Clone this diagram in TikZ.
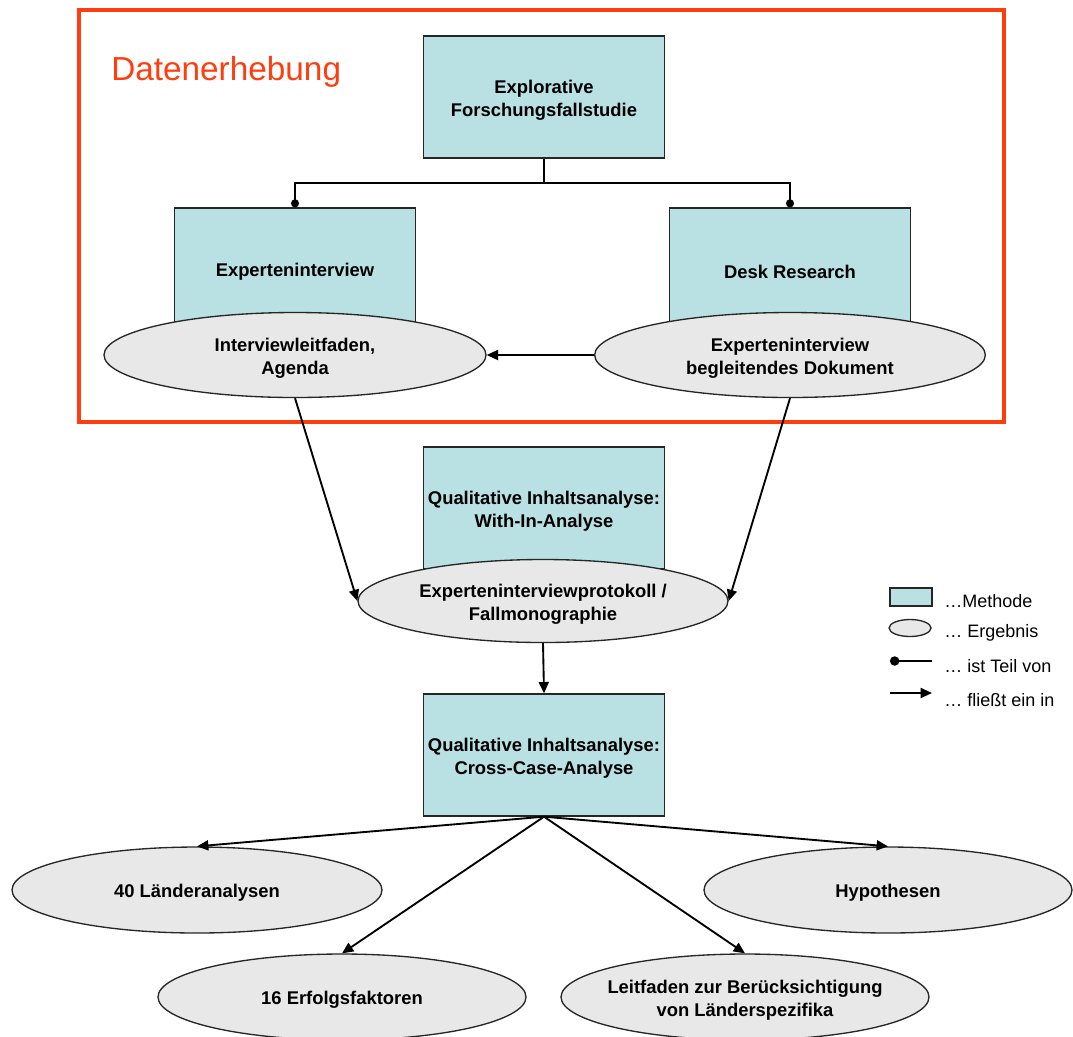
\documentclass[tikz,border=0pt]{standalone}
\usepackage{fontspec}
\setmainfont{Liberation Sans}
\usetikzlibrary{arrows.meta,shapes.geometric}
\definecolor{boxfill}{RGB}{185,224,227}
\definecolor{ellfill}{RGB}{232,232,232}
\definecolor{framered}{RGB}{255,62,16}
\newcommand{\tstr}{\rule{0pt}{14.5pt}}
\begin{document}
\begin{tikzpicture}[x=0.75pt,y=-0.75pt,
  lbl/.style={font=\fontsize{13.8}{17}\selectfont\bfseries},
  method/.style={rectangle,draw=black!85,line width=1pt,fill=boxfill,minimum width=180.75pt,minimum height=91.5pt,inner sep=0pt,align=center,lbl},
  result/.style={ellipse,draw=black!85,line width=1pt,fill=ellfill,inner sep=0pt,align=center,lbl},
  flow/.style={line width=1.4pt,-{Triangle[length=8.5pt,width=7.5pt]}},
  partof/.style={line width=1.4pt,-{Circle[length=6pt]}},
  legtxt/.style={anchor=west,inner sep=0pt,font=\fontsize{13.5}{16}\selectfont}]
\useasboundingbox (0,0) rectangle (1073,1036);
% frame
\draw[framered,line width=3pt] (79,10) rectangle (1004,422);
\node[anchor=base west,inner sep=0pt,text=framered,font=\fontsize{25}{29}\selectfont] (title) at (111,80) {Datenerhebung};
% methods
\node[method] (explo) at (544,97) {\tstr Explorative\\Forschungsfallstudie};
\node[method] (expint) at (295,269) {\tstr Experteninterview};
\node[method] (desk) at (790,269) {\tstr Desk Research};
\node[method] (within) at (544,508) {\tstr Qualitative Inhaltsanalyse:\\With-In-Analyse};
\node[method] (cross) at (544,755) {\tstr Qualitative Inhaltsanalyse:\\Cross-Case-Analyse};
% results
\node[result,minimum width=286.5pt,minimum height=63.75pt] (leit) at (295,355) {\tstr Interviewleitfaden,\\Agenda};
\node[result,minimum width=293pt,minimum height=63.75pt] (begl) at (790,355) {\tstr Experteninterview\\begleitendes Dokument};
\node[result,minimum width=277.5pt,minimum height=62.25pt] (proto) at (543,601) {\tstr Experteninterviewprotokoll /\\Fallmonographie};
\node[result,minimum width=277.5pt,minimum height=64.5pt] (laender) at (197,890) {\tstr 40 Länderanalysen};
\node[result,minimum width=276pt,minimum height=64.5pt] (hypo) at (888,890) {\tstr Hypothesen};
\node[result,minimum width=276pt,minimum height=64.5pt] (erfolg) at (342,997) {\tstr 16 Erfolgsfaktoren};
\node[result,minimum width=276pt,minimum height=64.5pt,inner xsep=-6pt,inner ysep=-4pt] (spez) at (745,997) {\tstr Leitfaden zur Berücksichtigung\\von Länderspezifika};
% connectors
\coordinate (j) at (544,183);
\draw[partof] (explo.south) -- (j) -| (expint.north);
\draw[partof] (j) -| (desk.north);
\draw[flow] (begl.west) -- (leit.east);
\draw[flow] (leit.south) -- (proto.west);
\draw[flow] (begl.south) -- (proto.east);
\draw[flow] (proto.south) -- (cross.north);
\draw[flow] (cross.south) -- (laender.north);
\draw[flow] (cross.south) -- (hypo.north);
\draw[flow] (cross.south) -- (erfolg.north);
\draw[flow] (cross.south) -- (spez.north);
% legend
\node[rectangle,draw=black!85,line width=1pt,fill=boxfill,minimum width=31.5pt,minimum height=13.5pt,inner sep=0pt] (legbox) at (911,597) {};
\node[ellipse,draw=black!85,line width=1pt,fill=ellfill,minimum width=31.5pt,minimum height=12.75pt,inner sep=0pt] (legell) at (910,628) {};
\coordinate (lpa) at (890,661);
\coordinate (lpb) at (932,661);
\coordinate (lfa) at (890,693);
\coordinate (lfb) at (932,693);
\draw[line width=1.4pt,{Circle[length=7pt]}-] (lpa) -- (lpb);
\draw[flow] (lfa) -- (lfb);
\node[legtxt] (t1) at (944,601) {…Methode};
\node[legtxt] (t2) at (944,633) {… Ergebnis};
\node[legtxt] (t3) at (944,666) {… ist Teil von};
\node[legtxt] (t4) at (944,700) {… fließt ein in};
\end{tikzpicture}
\end{document}
